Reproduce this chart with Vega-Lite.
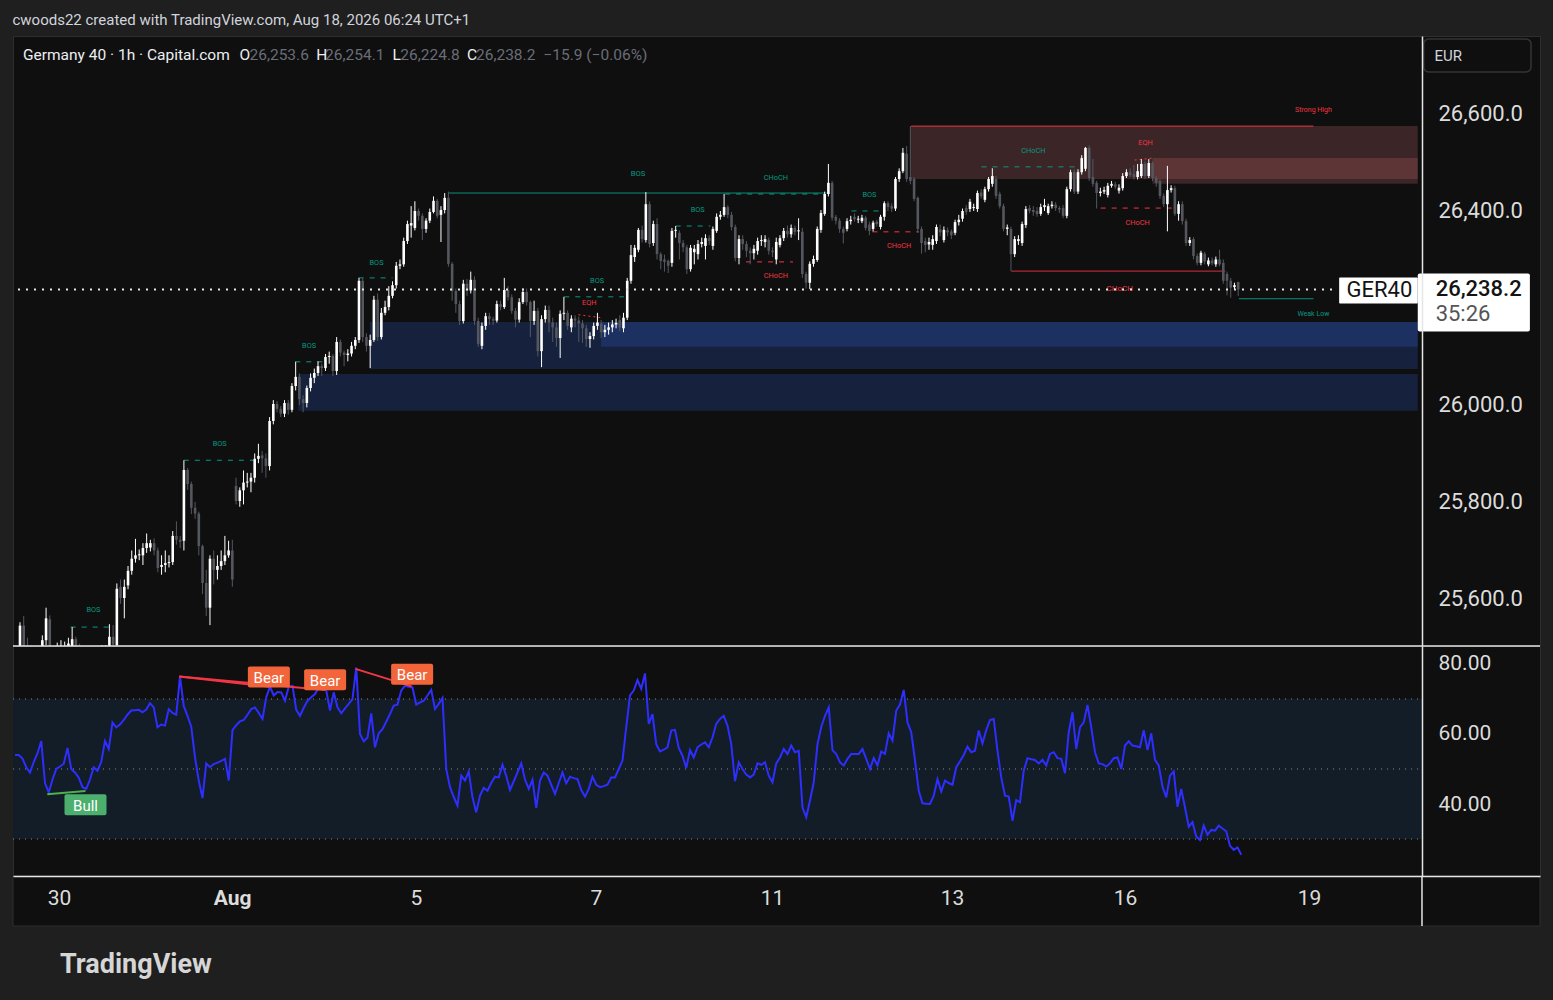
{
  "$schema": "https://vega.github.io/schema/vega-lite/v6.json",
  "description": "Germany 40 1h candlesticks with smart-money annotations and RSI panel, TradingView dark style.",
  "background": "#1f1f1f",
  "padding": {"left": 10, "right": 13, "top": 12, "bottom": 24},
  "title": {"text": "cwoods22 created with TradingView.com, Aug 18, 2026 06:24 UTC+1", "anchor": "start", "dx": 2, "fontSize": 15, "fontWeight": "normal", "color": "#d1d4dc", "font": "Roboto", "offset": 8},
  "config": {
    "view": {"fill": "#0f0f0f", "stroke": "#2e2e2e"},
    "text": {"font": "Roboto"},
    "title": {"font": "Roboto"}
  },
  "datasets": {
    "bars": [
      {"i":0,"o":25480,"h":25552,"l":25470,"c":25545,"r":54},
      {"i":1,"o":25545,"h":25565,"l":25485,"c":25495,"r":54},
      {"i":2,"o":25495,"h":25520,"l":25470,"c":25488,"r":53},
      {"i":3,"o":25488,"h":25505,"l":25455,"c":25470,"r":50.5},
      {"i":4,"o":25470,"h":25490,"l":25450,"c":25462,"r":49},
      {"i":5,"o":25462,"h":25500,"l":25455,"c":25490,"r":52},
      {"i":6,"o":25490,"h":25525,"l":25480,"c":25515,"r":54.5},
      {"i":7,"o":25515,"h":25582,"l":25505,"c":25560,"r":58},
      {"i":8,"o":25558,"h":25566,"l":25485,"c":25495,"r":46},
      {"i":9,"o":25495,"h":25500,"l":25465,"c":25480,"r":43.3},
      {"i":10,"o":25480,"h":25510,"l":25470,"c":25495,"r":47},
      {"i":11,"o":25495,"h":25515,"l":25485,"c":25500,"r":50},
      {"i":12,"o":25500,"h":25512,"l":25490,"c":25503,"r":50.7},
      {"i":13,"o":25503,"h":25520,"l":25495,"c":25508,"r":51.5},
      {"i":14,"o":25500,"h":25542,"l":25495,"c":25517,"r":56},
      {"i":15,"o":25517,"h":25522,"l":25490,"c":25500,"r":50},
      {"i":16,"o":25500,"h":25508,"l":25480,"c":25495,"r":49},
      {"i":17,"o":25495,"h":25500,"l":25475,"c":25488,"r":47.5},
      {"i":18,"o":25488,"h":25492,"l":25460,"c":25475,"r":44.8},
      {"i":19,"o":25475,"h":25485,"l":25460,"c":25472,"r":44.3},
      {"i":20,"o":25472,"h":25498,"l":25468,"c":25490,"r":47},
      {"i":21,"o":25490,"h":25497,"l":25478,"c":25487,"r":50.5},
      {"i":22,"o":25487,"h":25505,"l":25480,"c":25495,"r":49.5},
      {"i":23,"o":25495,"h":25505,"l":25485,"c":25498,"r":52},
      {"i":24,"o":25498,"h":25548,"l":25492,"c":25522,"r":58},
      {"i":25,"o":25522,"h":25546,"l":25500,"c":25506,"r":55.7},
      {"i":26,"o":25505,"h":25632,"l":25500,"c":25621,"r":63.3},
      {"i":27,"o":25625,"h":25640,"l":25590,"c":25602,"r":61.9},
      {"i":28,"o":25602,"h":25640,"l":25560,"c":25625,"r":62.7},
      {"i":29,"o":25628,"h":25668,"l":25620,"c":25658,"r":64},
      {"i":30,"o":25658,"h":25700,"l":25650,"c":25683,"r":65.5},
      {"i":31,"o":25683,"h":25724,"l":25675,"c":25690,"r":66.7},
      {"i":32,"o":25690,"h":25702,"l":25680,"c":25692,"r":66.8},
      {"i":33,"o":25690,"h":25715,"l":25670,"c":25705,"r":66.9},
      {"i":34,"o":25705,"h":25735,"l":25695,"c":25715,"r":66.2},
      {"i":35,"o":25706,"h":25722,"l":25698,"c":25715,"r":67},
      {"i":36,"o":25715,"h":25725,"l":25690,"c":25700,"r":68.8},
      {"i":37,"o":25700,"h":25706,"l":25655,"c":25664,"r":67.6},
      {"i":38,"o":25666,"h":25690,"l":25650,"c":25670,"r":61.9},
      {"i":39,"o":25670,"h":25700,"l":25655,"c":25674,"r":62.7},
      {"i":40,"o":25674,"h":25690,"l":25665,"c":25676,"r":62.4},
      {"i":41,"o":25676,"h":25740,"l":25670,"c":25730,"r":67.1},
      {"i":42,"o":25730,"h":25760,"l":25712,"c":25722,"r":66},
      {"i":43,"o":25722,"h":25730,"l":25705,"c":25718,"r":65.5},
      {"i":44,"o":25720,"h":25886,"l":25700,"c":25866,"r":76.4},
      {"i":45,"o":25866,"h":25870,"l":25825,"c":25837,"r":68},
      {"i":46,"o":25837,"h":25842,"l":25775,"c":25788,"r":65.2},
      {"i":47,"o":25788,"h":25800,"l":25765,"c":25776,"r":62.1},
      {"i":48,"o":25776,"h":25780,"l":25690,"c":25709,"r":53.3},
      {"i":49,"o":25709,"h":25712,"l":25610,"c":25633,"r":46.7},
      {"i":50,"o":25633,"h":25660,"l":25565,"c":25582,"r":41.7},
      {"i":51,"o":25582,"h":25690,"l":25546,"c":25683,"r":51.6},
      {"i":52,"o":25683,"h":25700,"l":25630,"c":25660,"r":50.5},
      {"i":53,"o":25660,"h":25690,"l":25640,"c":25668,"r":51.4},
      {"i":54,"o":25668,"h":25700,"l":25660,"c":25678,"r":51.8},
      {"i":55,"o":25678,"h":25730,"l":25670,"c":25690,"r":52.3},
      {"i":56,"o":25690,"h":25720,"l":25685,"c":25700,"r":52.9},
      {"i":57,"o":25700,"h":25722,"l":25625,"c":25640,"r":46.7},
      {"i":58,"o":25833,"h":25850,"l":25795,"c":25802,"r":61.1},
      {"i":59,"o":25802,"h":25830,"l":25790,"c":25824,"r":62.5},
      {"i":60,"o":25824,"h":25865,"l":25795,"c":25840,"r":63.6},
      {"i":61,"o":25840,"h":25860,"l":25830,"c":25842,"r":64},
      {"i":62,"o":25842,"h":25860,"l":25820,"c":25850,"r":65.5},
      {"i":63,"o":25850,"h":25900,"l":25840,"c":25889,"r":67.1},
      {"i":64,"o":25889,"h":25920,"l":25880,"c":25895,"r":67.6},
      {"i":65,"o":25896,"h":25905,"l":25860,"c":25890,"r":66},
      {"i":66,"o":25890,"h":25900,"l":25850,"c":25874,"r":64.3},
      {"i":67,"o":25874,"h":25975,"l":25865,"c":25967,"r":70.5},
      {"i":68,"o":25967,"h":26010,"l":25960,"c":26002,"r":73.5},
      {"i":69,"o":26002,"h":26008,"l":25985,"c":25992,"r":71},
      {"i":70,"o":25992,"h":25998,"l":25975,"c":25982,"r":72},
      {"i":71,"o":25982,"h":26010,"l":25975,"c":26004,"r":71.9},
      {"i":72,"o":26004,"h":26010,"l":25980,"c":25990,"r":69.5},
      {"i":73,"o":25990,"h":26045,"l":25985,"c":26039,"r":73.5},
      {"i":74,"o":26039,"h":26089,"l":26030,"c":26058,"r":73.8},
      {"i":75,"o":26058,"h":26065,"l":26000,"c":26012,"r":66.9},
      {"i":76,"o":26012,"h":26020,"l":25985,"c":26004,"r":65.2},
      {"i":77,"o":26004,"h":26040,"l":25995,"c":26035,"r":67.5},
      {"i":78,"o":26035,"h":26065,"l":26028,"c":26056,"r":69.5},
      {"i":79,"o":26056,"h":26075,"l":26045,"c":26066,"r":70.5},
      {"i":80,"o":26066,"h":26090,"l":26060,"c":26080,"r":71.4},
      {"i":81,"o":26080,"h":26085,"l":26060,"c":26076,"r":73.3},
      {"i":82,"o":26076,"h":26105,"l":26070,"c":26099,"r":72.8},
      {"i":83,"o":26099,"h":26110,"l":26085,"c":26101,"r":72.4},
      {"i":84,"o":26101,"h":26105,"l":26060,"c":26070,"r":66.7},
      {"i":85,"o":26070,"h":26140,"l":26062,"c":26130,"r":71.9},
      {"i":86,"o":26130,"h":26135,"l":26100,"c":26108,"r":67.6},
      {"i":87,"o":26108,"h":26112,"l":26080,"c":26103,"r":65.9},
      {"i":88,"o":26103,"h":26115,"l":26090,"c":26106,"r":67.3},
      {"i":89,"o":26106,"h":26130,"l":26100,"c":26122,"r":68.6},
      {"i":90,"o":26122,"h":26140,"l":26115,"c":26134,"r":70},
      {"i":91,"o":26134,"h":26262,"l":26128,"c":26256,"r":79},
      {"i":92,"o":26256,"h":26262,"l":26130,"c":26140,"r":60},
      {"i":93,"o":26140,"h":26148,"l":26110,"c":26122,"r":57.9},
      {"i":94,"o":26122,"h":26145,"l":26076,"c":26134,"r":59},
      {"i":95,"o":26134,"h":26225,"l":26130,"c":26217,"r":65.9},
      {"i":96,"o":26217,"h":26230,"l":26132,"c":26140,"r":56.2},
      {"i":97,"o":26140,"h":26200,"l":26135,"c":26190,"r":60.2},
      {"i":98,"o":26190,"h":26215,"l":26185,"c":26202,"r":61.4},
      {"i":99,"o":26202,"h":26245,"l":26195,"c":26225,"r":63.5},
      {"i":100,"o":26225,"h":26255,"l":26220,"c":26247,"r":65.7},
      {"i":101,"o":26247,"h":26295,"l":26240,"c":26287,"r":68.1},
      {"i":102,"o":26287,"h":26300,"l":26280,"c":26290,"r":68.4},
      {"i":103,"o":26290,"h":26345,"l":26285,"c":26338,"r":72.4},
      {"i":104,"o":26338,"h":26380,"l":26332,"c":26373,"r":73.8},
      {"i":105,"o":26370,"h":26410,"l":26345,"c":26375,"r":73.5},
      {"i":106,"o":26365,"h":26420,"l":26360,"c":26400,"r":73.3},
      {"i":107,"o":26400,"h":26405,"l":26380,"c":26390,"r":68.4},
      {"i":108,"o":26390,"h":26395,"l":26340,"c":26363,"r":69},
      {"i":109,"o":26363,"h":26385,"l":26355,"c":26380,"r":69.5},
      {"i":110,"o":26380,"h":26405,"l":26375,"c":26398,"r":71},
      {"i":111,"o":26398,"h":26430,"l":26395,"c":26421,"r":72.6},
      {"i":112,"o":26421,"h":26425,"l":26385,"c":26390,"r":67.1},
      {"i":113,"o":26392,"h":26410,"l":26336,"c":26402,"r":68.6},
      {"i":114,"o":26402,"h":26437,"l":26395,"c":26427,"r":70.3},
      {"i":115,"o":26427,"h":26440,"l":26285,"c":26291,"r":50},
      {"i":116,"o":26291,"h":26295,"l":26215,"c":26235,"r":44.8},
      {"i":117,"o":26235,"h":26240,"l":26190,"c":26208,"r":42},
      {"i":118,"o":26208,"h":26215,"l":26165,"c":26173,"r":39.5},
      {"i":119,"o":26173,"h":26258,"l":26168,"c":26250,"r":48.1},
      {"i":120,"o":26250,"h":26260,"l":26225,"c":26236,"r":46.7},
      {"i":121,"o":26236,"h":26275,"l":26230,"c":26258,"r":49.3},
      {"i":122,"o":26258,"h":26265,"l":26165,"c":26173,"r":41.9},
      {"i":123,"o":26173,"h":26180,"l":26120,"c":26126,"r":37.6},
      {"i":124,"o":26122,"h":26170,"l":26115,"c":26163,"r":42.4},
      {"i":125,"o":26163,"h":26190,"l":26155,"c":26183,"r":44.6},
      {"i":126,"o":26183,"h":26190,"l":26165,"c":26177,"r":43.8},
      {"i":127,"o":26177,"h":26182,"l":26165,"c":26174,"r":46},
      {"i":128,"o":26174,"h":26215,"l":26170,"c":26208,"r":47.8},
      {"i":129,"o":26208,"h":26215,"l":26195,"c":26202,"r":47.6},
      {"i":130,"o":26202,"h":26262,"l":26198,"c":26237,"r":51.2},
      {"i":131,"o":26237,"h":26245,"l":26215,"c":26222,"r":48},
      {"i":132,"o":26222,"h":26228,"l":26188,"c":26194,"r":44},
      {"i":133,"o":26194,"h":26200,"l":26160,"c":26176,"r":46.5},
      {"i":134,"o":26176,"h":26220,"l":26170,"c":26212,"r":49},
      {"i":135,"o":26212,"h":26240,"l":26208,"c":26233,"r":51.6},
      {"i":136,"o":26233,"h":26240,"l":26205,"c":26212,"r":47},
      {"i":137,"o":26212,"h":26215,"l":26140,"c":26173,"r":44.3},
      {"i":138,"o":26173,"h":26215,"l":26165,"c":26194,"r":46.9},
      {"i":139,"o":26194,"h":26200,"l":26100,"c":26111,"r":38.9},
      {"i":140,"o":26111,"h":26185,"l":26078,"c":26177,"r":46.7},
      {"i":141,"o":26177,"h":26205,"l":26170,"c":26196,"r":49},
      {"i":142,"o":26196,"h":26205,"l":26150,"c":26170,"r":48.1},
      {"i":143,"o":26170,"h":26180,"l":26130,"c":26160,"r":45.5},
      {"i":144,"o":26160,"h":26170,"l":26120,"c":26138,"r":42.9},
      {"i":145,"o":26138,"h":26195,"l":26097,"c":26188,"r":46},
      {"i":146,"o":26188,"h":26223,"l":26175,"c":26190,"r":49},
      {"i":147,"o":26190,"h":26195,"l":26155,"c":26163,"r":45.9},
      {"i":148,"o":26160,"h":26185,"l":26150,"c":26178,"r":47.8},
      {"i":149,"o":26178,"h":26185,"l":26160,"c":26174,"r":47.4},
      {"i":150,"o":26174,"h":26182,"l":26130,"c":26168,"r":47.1},
      {"i":151,"o":26168,"h":26175,"l":26128,"c":26158,"r":44},
      {"i":152,"o":26158,"h":26165,"l":26120,"c":26136,"r":42.1},
      {"i":153,"o":26136,"h":26150,"l":26118,"c":26142,"r":44.3},
      {"i":154,"o":26142,"h":26170,"l":26135,"c":26163,"r":47.8},
      {"i":155,"o":26163,"h":26190,"l":26155,"c":26170,"r":45.5},
      {"i":156,"o":26168,"h":26175,"l":26138,"c":26150,"r":44.8},
      {"i":157,"o":26150,"h":26165,"l":26140,"c":26155,"r":45.1},
      {"i":158,"o":26155,"h":26170,"l":26145,"c":26160,"r":45.5},
      {"i":159,"o":26160,"h":26175,"l":26150,"c":26166,"r":47.6},
      {"i":160,"o":26166,"h":26178,"l":26158,"c":26169,"r":47.6},
      {"i":161,"o":26175,"h":26185,"l":26152,"c":26160,"r":50},
      {"i":162,"o":26158,"h":26190,"l":26150,"c":26180,"r":52.4},
      {"i":163,"o":26180,"h":26262,"l":26175,"c":26256,"r":62},
      {"i":164,"o":26256,"h":26330,"l":26250,"c":26309,"r":71},
      {"i":165,"o":26305,"h":26330,"l":26295,"c":26324,"r":72.4},
      {"i":166,"o":26320,"h":26365,"l":26315,"c":26361,"r":75.4},
      {"i":167,"o":26361,"h":26370,"l":26335,"c":26342,"r":72.9},
      {"i":168,"o":26340,"h":26439,"l":26335,"c":26414,"r":77.3},
      {"i":169,"o":26414,"h":26420,"l":26325,"c":26332,"r":62.9},
      {"i":170,"o":26334,"h":26380,"l":26328,"c":26373,"r":65.7},
      {"i":171,"o":26373,"h":26385,"l":26300,"c":26311,"r":57.1},
      {"i":172,"o":26311,"h":26315,"l":26280,"c":26297,"r":55},
      {"i":173,"o":26300,"h":26310,"l":26275,"c":26295,"r":55.5},
      {"i":174,"o":26297,"h":26300,"l":26272,"c":26287,"r":56.2},
      {"i":175,"o":26293,"h":26365,"l":26285,"c":26359,"r":61},
      {"i":176,"o":26359,"h":26369,"l":26345,"c":26361,"r":61.2},
      {"i":177,"o":26355,"h":26360,"l":26300,"c":26334,"r":56},
      {"i":178,"o":26334,"h":26340,"l":26315,"c":26325,"r":53.8},
      {"i":179,"o":26325,"h":26330,"l":26270,"c":26280,"r":50.3},
      {"i":180,"o":26280,"h":26330,"l":26275,"c":26324,"r":55.4},
      {"i":181,"o":26315,"h":26330,"l":26290,"c":26322,"r":53.3},
      {"i":182,"o":26311,"h":26340,"l":26300,"c":26332,"r":56.2},
      {"i":183,"o":26332,"h":26345,"l":26325,"c":26336,"r":57},
      {"i":184,"o":26328,"h":26352,"l":26300,"c":26344,"r":57.6},
      {"i":185,"o":26344,"h":26350,"l":26330,"c":26338,"r":56.2},
      {"i":186,"o":26328,"h":26368,"l":26320,"c":26363,"r":59},
      {"i":187,"o":26359,"h":26395,"l":26355,"c":26388,"r":62.9},
      {"i":188,"o":26388,"h":26400,"l":26382,"c":26392,"r":64.3},
      {"i":189,"o":26392,"h":26435,"l":26388,"c":26408,"r":65.2},
      {"i":190,"o":26408,"h":26412,"l":26385,"c":26392,"r":62.4},
      {"i":191,"o":26392,"h":26398,"l":26360,"c":26367,"r":57.1},
      {"i":192,"o":26367,"h":26372,"l":26296,"c":26303,"r":46.5},
      {"i":193,"o":26303,"h":26350,"l":26290,"c":26342,"r":51.9},
      {"i":194,"o":26342,"h":26350,"l":26320,"c":26332,"r":50},
      {"i":195,"o":26332,"h":26338,"l":26305,"c":26318,"r":48.4},
      {"i":196,"o":26318,"h":26325,"l":26290,"c":26313,"r":47.6},
      {"i":197,"o":26313,"h":26330,"l":26300,"c":26322,"r":48.4},
      {"i":198,"o":26318,"h":26345,"l":26310,"c":26338,"r":51.6},
      {"i":199,"o":26338,"h":26350,"l":26328,"c":26340,"r":51.2},
      {"i":200,"o":26336,"h":26350,"l":26325,"c":26342,"r":51.9},
      {"i":201,"o":26340,"h":26345,"l":26310,"c":26318,"r":48.1},
      {"i":202,"o":26318,"h":26325,"l":26305,"c":26315,"r":46.2},
      {"i":203,"o":26300,"h":26345,"l":26290,"c":26336,"r":51.6},
      {"i":204,"o":26330,"h":26350,"l":26325,"c":26344,"r":53.3},
      {"i":205,"o":26344,"h":26365,"l":26338,"c":26359,"r":55.7},
      {"i":206,"o":26359,"h":26370,"l":26345,"c":26352,"r":54.3},
      {"i":207,"o":26352,"h":26372,"l":26345,"c":26365,"r":56.7},
      {"i":208,"o":26365,"h":26370,"l":26350,"c":26357,"r":54.8},
      {"i":209,"o":26358,"h":26385,"l":26340,"c":26360,"r":55.2},
      {"i":210,"o":26357,"h":26365,"l":26262,"c":26270,"r":39},
      {"i":211,"o":26270,"h":26275,"l":26240,"c":26252,"r":36.2},
      {"i":212,"o":26252,"h":26296,"l":26239,"c":26291,"r":41},
      {"i":213,"o":26291,"h":26308,"l":26285,"c":26301,"r":46.2},
      {"i":214,"o":26299,"h":26368,"l":26295,"c":26363,"r":57.1},
      {"i":215,"o":26361,"h":26402,"l":26355,"c":26396,"r":62},
      {"i":216,"o":26394,"h":26440,"l":26390,"c":26435,"r":65.2},
      {"i":217,"o":26435,"h":26497,"l":26430,"c":26458,"r":67.6},
      {"i":218,"o":26458,"h":26462,"l":26380,"c":26386,"r":55.4},
      {"i":219,"o":26388,"h":26392,"l":26372,"c":26380,"r":54.3},
      {"i":220,"o":26380,"h":26385,"l":26355,"c":26363,"r":51.9},
      {"i":221,"o":26363,"h":26368,"l":26333,"c":26355,"r":51},
      {"i":222,"o":26363,"h":26385,"l":26358,"c":26379,"r":52.9},
      {"i":223,"o":26379,"h":26390,"l":26372,"c":26382,"r":54.3},
      {"i":224,"o":26388,"h":26395,"l":26378,"c":26383,"r":54.3},
      {"i":225,"o":26382,"h":26390,"l":26375,"c":26384,"r":54.3},
      {"i":226,"o":26379,"h":26392,"l":26375,"c":26386,"r":55.7},
      {"i":227,"o":26386,"h":26390,"l":26360,"c":26365,"r":52.9},
      {"i":228,"o":26372,"h":26378,"l":26350,"c":26359,"r":50},
      {"i":229,"o":26363,"h":26380,"l":26358,"c":26376,"r":53.1},
      {"i":230,"o":26378,"h":26382,"l":26368,"c":26373,"r":51},
      {"i":231,"o":26367,"h":26392,"l":26362,"c":26388,"r":55},
      {"i":232,"o":26388,"h":26420,"l":26380,"c":26416,"r":54.3},
      {"i":233,"o":26416,"h":26420,"l":26400,"c":26408,"r":60.2},
      {"i":234,"o":26410,"h":26416,"l":26398,"c":26405,"r":58.1},
      {"i":235,"o":26405,"h":26470,"l":26400,"c":26466,"r":66.7},
      {"i":236,"o":26466,"h":26488,"l":26460,"c":26482,"r":68.4},
      {"i":237,"o":26482,"h":26530,"l":26478,"c":26520,"r":72.6},
      {"i":238,"o":26518,"h":26534,"l":26460,"c":26466,"r":63.3},
      {"i":239,"o":26470,"h":26575,"l":26455,"c":26462,"r":60.5},
      {"i":240,"o":26466,"h":26470,"l":26420,"c":26425,"r":52.4},
      {"i":241,"o":26427,"h":26430,"l":26355,"c":26363,"r":43.8},
      {"i":242,"o":26363,"h":26368,"l":26312,"c":26334,"r":40.2},
      {"i":243,"o":26338,"h":26345,"l":26315,"c":26330,"r":40.1},
      {"i":244,"o":26331,"h":26345,"l":26320,"c":26336,"r":40},
      {"i":245,"o":26330,"h":26350,"l":26320,"c":26342,"r":42.4},
      {"i":246,"o":26338,"h":26372,"l":26332,"c":26367,"r":47.1},
      {"i":247,"o":26362,"h":26372,"l":26348,"c":26356,"r":43.6},
      {"i":248,"o":26340,"h":26368,"l":26335,"c":26361,"r":46.7},
      {"i":249,"o":26360,"h":26366,"l":26348,"c":26356,"r":46},
      {"i":250,"o":26358,"h":26362,"l":26342,"c":26350,"r":45.5},
      {"i":251,"o":26355,"h":26382,"l":26350,"c":26377,"r":50.5},
      {"i":252,"o":26377,"h":26392,"l":26370,"c":26382,"r":52.2},
      {"i":253,"o":26384,"h":26405,"l":26378,"c":26400,"r":54},
      {"i":254,"o":26406,"h":26412,"l":26392,"c":26398,"r":56.4},
      {"i":255,"o":26404,"h":26425,"l":26398,"c":26419,"r":54.8},
      {"i":256,"o":26406,"h":26415,"l":26400,"c":26408,"r":55.2},
      {"i":257,"o":26404,"h":26442,"l":26398,"c":26437,"r":61},
      {"i":258,"o":26438,"h":26445,"l":26425,"c":26430,"r":57.3},
      {"i":259,"o":26423,"h":26450,"l":26418,"c":26445,"r":61.1},
      {"i":260,"o":26445,"h":26470,"l":26440,"c":26466,"r":64},
      {"i":261,"o":26456,"h":26488,"l":26450,"c":26472,"r":64.3},
      {"i":262,"o":26466,"h":26472,"l":26425,"c":26431,"r":55.2},
      {"i":263,"o":26435,"h":26440,"l":26405,"c":26410,"r":47.6},
      {"i":264,"o":26410,"h":26415,"l":26358,"c":26363,"r":42.4},
      {"i":265,"o":26363,"h":26372,"l":26350,"c":26366,"r":42.1},
      {"i":266,"o":26363,"h":26368,"l":26276,"c":26311,"r":35.2},
      {"i":267,"o":26311,"h":26348,"l":26305,"c":26342,"r":41.1},
      {"i":268,"o":26338,"h":26350,"l":26330,"c":26342,"r":40.5},
      {"i":269,"o":26334,"h":26378,"l":26328,"c":26373,"r":49.5},
      {"i":270,"o":26371,"h":26410,"l":26365,"c":26404,"r":53.1},
      {"i":271,"o":26406,"h":26412,"l":26395,"c":26400,"r":52.8},
      {"i":272,"o":26402,"h":26410,"l":26390,"c":26398,"r":52.6},
      {"i":273,"o":26400,"h":26408,"l":26388,"c":26394,"r":51.6},
      {"i":274,"o":26394,"h":26415,"l":26390,"c":26408,"r":52.6},
      {"i":275,"o":26408,"h":26425,"l":26400,"c":26412,"r":51},
      {"i":276,"o":26396,"h":26415,"l":26392,"c":26410,"r":54.3},
      {"i":277,"o":26410,"h":26420,"l":26405,"c":26413,"r":54.8},
      {"i":278,"o":26413,"h":26418,"l":26400,"c":26406,"r":53.1},
      {"i":279,"o":26406,"h":26410,"l":26396,"c":26403,"r":52.9},
      {"i":280,"o":26406,"h":26412,"l":26385,"c":26390,"r":48.8},
      {"i":281,"o":26390,"h":26450,"l":26385,"c":26445,"r":60.5},
      {"i":282,"o":26445,"h":26485,"l":26440,"c":26480,"r":66.2},
      {"i":283,"o":26480,"h":26486,"l":26435,"c":26440,"r":55.7},
      {"i":284,"o":26440,"h":26486,"l":26435,"c":26480,"r":61.9},
      {"i":285,"o":26480,"h":26515,"l":26475,"c":26509,"r":63.3},
      {"i":286,"o":26487,"h":26532,"l":26482,"c":26530,"r":68.3},
      {"i":287,"o":26530,"h":26535,"l":26462,"c":26468,"r":61.9},
      {"i":288,"o":26470,"h":26507,"l":26450,"c":26456,"r":54.8},
      {"i":289,"o":26458,"h":26462,"l":26405,"c":26437,"r":51.6},
      {"i":290,"o":26437,"h":26448,"l":26430,"c":26440,"r":51.4},
      {"i":291,"o":26440,"h":26450,"l":26435,"c":26443,"r":50.7},
      {"i":292,"o":26433,"h":26458,"l":26428,"c":26452,"r":51.6},
      {"i":293,"o":26452,"h":26462,"l":26448,"c":26456,"r":53.1},
      {"i":294,"o":26455,"h":26460,"l":26445,"c":26450,"r":53.3},
      {"i":295,"o":26442,"h":26455,"l":26436,"c":26448,"r":50},
      {"i":296,"o":26447,"h":26478,"l":26442,"c":26472,"r":56.7},
      {"i":297,"o":26472,"h":26486,"l":26468,"c":26480,"r":57.9},
      {"i":298,"o":26480,"h":26488,"l":26470,"c":26474,"r":56.7},
      {"i":299,"o":26476,"h":26495,"l":26465,"c":26470,"r":56.5},
      {"i":300,"o":26470,"h":26497,"l":26465,"c":26482,"r":56.2},
      {"i":301,"o":26472,"h":26507,"l":26468,"c":26497,"r":61.1},
      {"i":302,"o":26497,"h":26502,"l":26466,"c":26472,"r":55.4},
      {"i":303,"o":26472,"h":26507,"l":26468,"c":26499,"r":60.2},
      {"i":304,"o":26499,"h":26502,"l":26462,"c":26468,"r":52.6},
      {"i":305,"o":26468,"h":26472,"l":26450,"c":26458,"r":51},
      {"i":306,"o":26462,"h":26466,"l":26425,"c":26431,"r":45},
      {"i":307,"o":26431,"h":26436,"l":26408,"c":26414,"r":41.9},
      {"i":308,"o":26414,"h":26493,"l":26358,"c":26443,"r":48.1},
      {"i":309,"o":26443,"h":26453,"l":26438,"c":26447,"r":49.3},
      {"i":310,"o":26447,"h":26452,"l":26390,"c":26394,"r":39.2},
      {"i":311,"o":26394,"h":26420,"l":26380,"c":26414,"r":44.3},
      {"i":312,"o":26414,"h":26420,"l":26372,"c":26379,"r":39},
      {"i":313,"o":26379,"h":26384,"l":26328,"c":26334,"r":33.5},
      {"i":314,"o":26334,"h":26346,"l":26328,"c":26340,"r":34.8},
      {"i":315,"o":26342,"h":26346,"l":26300,"c":26307,"r":30.7},
      {"i":316,"o":26307,"h":26312,"l":26288,"c":26293,"r":29.7},
      {"i":317,"o":26293,"h":26318,"l":26288,"c":26314,"r":33.8},
      {"i":318,"o":26312,"h":26316,"l":26290,"c":26296,"r":31.2},
      {"i":319,"o":26290,"h":26304,"l":26286,"c":26298,"r":32.6},
      {"i":320,"o":26298,"h":26304,"l":26288,"c":26292,"r":32.4},
      {"i":321,"o":26290,"h":26306,"l":26285,"c":26300,"r":33.8},
      {"i":322,"o":26300,"h":26320,"l":26286,"c":26290,"r":33},
      {"i":323,"o":26293,"h":26300,"l":26250,"c":26256,"r":32.2},
      {"i":324,"o":26270,"h":26275,"l":26226,"c":26256,"r":28.1},
      {"i":325,"o":26256,"h":26262,"l":26221,"c":26242,"r":26.9},
      {"i":326,"o":26243,"h":26252,"l":26238,"c":26247,"r":27.6},
      {"i":327,"o":26253.6,"h":26254.1,"l":26224.8,"c":26238.2,"r":25.5}
    ],
    "zones": [
      {"a":74.7,"b":375.2,"p":26064,"q":25988,"k":"demand"},
      {"a":93.9,"b":375.2,"p":26171,"q":26074,"k":"demand"},
      {"a":156,"b":375.2,"p":26171,"q":26120,"k":"demand"},
      {"a":239.2,"b":375.2,"p":26575,"q":26466,"k":"supply"},
      {"a":304,"b":375.2,"p":26509,"q":26456,"k":"supply"}
    ],
    "lines": [
      {"a":13.6,"b":24,"p":25542,"q":25542,"s":"bull","st":"dash"},
      {"a":44,"b":62.7,"p":25886,"q":25886,"s":"bull","st":"dash"},
      {"a":73.9,"b":81.9,"p":26089,"q":26089,"s":"bull","st":"dash"},
      {"a":90.9,"b":100,"p":26262,"q":26262,"s":"bull","st":"dash"},
      {"a":115.2,"b":216.5,"p":26437,"q":26437,"s":"bull","st":"solid"},
      {"a":146.1,"b":162.1,"p":26223,"q":26223,"s":"bull","st":"dash"},
      {"a":149.9,"b":156,"p":26186,"q":26180,"s":"bear","st":"dot"},
      {"a":176,"b":185.3,"p":26369,"q":26369,"s":"bull","st":"dash"},
      {"a":194.9,"b":207.5,"p":26295,"q":26295,"s":"bear","st":"dash"},
      {"a":189.3,"b":215.5,"p":26435,"q":26435,"s":"bull","st":"dash"},
      {"a":223.2,"b":232.5,"p":26400,"q":26400,"s":"bull","st":"dash"},
      {"a":228.8,"b":241.3,"p":26357,"q":26357,"s":"bear","st":"dash"},
      {"a":258.1,"b":285.3,"p":26491,"q":26491,"s":"bull","st":"dash"},
      {"a":299.2,"b":304,"p":26505,"q":26509,"s":"bear","st":"dot"},
      {"a":290.1,"b":309.9,"p":26406,"q":26406,"s":"bear","st":"dash"},
      {"a":266.1,"b":323.5,"p":26276,"q":26276,"s":"bear","st":"solid"},
      {"a":327.2,"b":347.2,"p":26219,"q":26219,"s":"bull","st":"solid"},
      {"a":239.2,"b":347.2,"p":26575,"q":26575,"s":"bear","st":"solid"}
    ],
    "notes": [
      {"i":19.7,"p":25577,"t":"BOS","s":"bull","z":"s"},
      {"i":53.6,"p":25920,"t":"BOS","s":"bull","z":"s"},
      {"i":77.6,"p":26122,"t":"BOS","s":"bull","z":"s"},
      {"i":95.7,"p":26293,"t":"BOS","s":"bull","z":"s"},
      {"i":165.9,"p":26476,"t":"BOS","s":"bull","z":"m"},
      {"i":154.9,"p":26256,"t":"BOS","s":"bull","z":"s"},
      {"i":152.8,"p":26210,"t":"EQH","s":"bear","z":"s"},
      {"i":181.9,"p":26402,"t":"BOS","s":"bull","z":"s"},
      {"i":202.9,"p":26266,"t":"CHoCH","s":"bear","z":"s"},
      {"i":202.9,"p":26468,"t":"CHoCH","s":"bull","z":"s"},
      {"i":228,"p":26433,"t":"BOS","s":"bull","z":"s"},
      {"i":236,"p":26328,"t":"CHoCH","s":"bear","z":"s"},
      {"i":272,"p":26524,"t":"CHoCH","s":"bull","z":"s"},
      {"i":302.1,"p":26540,"t":"EQH","s":"bear","z":"s"},
      {"i":300,"p":26375,"t":"CHoCH","s":"bear","z":"s"},
      {"i":295.2,"p":26239,"t":"CHoCH","s":"bear","z":"l"},
      {"i":347.2,"p":26188,"t":"Weak Low","s":"bull","z":"xs"},
      {"i":347.2,"p":26608,"t":"Strong High","s":"bear","z":"xs"}
    ],
    "legend": [
      {"i":0.8,"t":"Germany 40 · 1h · Capital.com","k":"name"},
      {"i":58.9,"t":"O","k":"key"},
      {"i":61.6,"t":"26,253.6","k":"val"},
      {"i":79.5,"t":"H","k":"key"},
      {"i":81.9,"t":"26,254.1","k":"val"},
      {"i":100,"t":"L","k":"key"},
      {"i":102.1,"t":"26,224.8","k":"val"},
      {"i":120,"t":"C","k":"key"},
      {"i":122.4,"t":"26,238.2","k":"val"},
      {"i":140.5,"t":"−15.9 (−0.06%)","k":"val"}
    ],
    "last": [{"p":26238.2,"sym":"GER40","cd":"35:26","cur":"EUR"}],
    "levels": [{"lv":70},{"lv":50},{"lv":30}],
    "divs": [
      {"a":43.8,"ra":76.4,"b":67.8,"rb":73.5,"s":"bear"},
      {"a":43.8,"ra":76.4,"b":82.7,"rb":72.6,"s":"bear"},
      {"a":90.8,"ra":78.6,"b":105.8,"rb":73.6,"s":"bear"},
      {"a":8.6,"ra":42.8,"b":18.8,"rb":43.7,"s":"bull"}
    ],
    "tags": [
      {"i":67.7,"r":76.3,"t":"Bear","s":"bear"},
      {"i":82.7,"r":75.5,"t":"Bear","s":"bear"},
      {"i":105.9,"r":77.1,"t":"Bear","s":"bear"},
      {"i":18.8,"r":39.8,"t":"Bull","s":"bull"}
    ]
  },
  "spacing": 0,
  "bounds": "flush",
  "vconcat": [
    {
      "width": 1527,
      "height": 610,
      "resolve": {"scale": {"color": "independent", "opacity": "independent", "size": "independent", "strokeDash": "independent"}},
      "layer": [
        {
          "data": {"name": "zones"},
          "mark": {"type": "rect"},
          "encoding": {
            "x": {"field": "a", "type": "quantitative", "scale": {"domain": [-0.533, 406.67], "nice": false, "zero": false}, "axis": {"labels": false, "ticks": false, "domain": false, "grid": false, "title": null, "minExtent": 0, "maxExtent": 0, "offset": 0}},
            "x2": {"field": "b"},
            "y": {"field": "p", "type": "quantitative", "scale": {"domain": [25503.0, 26760.8], "nice": false, "zero": false}},
            "y2": {"field": "q"},
            "color": {"field": "k", "type": "nominal", "scale": {"domain": ["demand", "supply"], "range": ["#346be3", "#b26064"]}, "legend": null},
            "opacity": {"field": "k", "type": "nominal", "scale": {"domain": ["demand", "supply"], "range": [0.22, 0.28]}, "legend": null}
          }
        },
        {
          "data": {"name": "lines"},
          "mark": {"type": "rule", "strokeWidth": 1},
          "encoding": {
            "x": {"field": "a", "type": "quantitative", "scale": {"domain": [-0.533, 406.67], "nice": false, "zero": false}},
            "x2": {"field": "b"},
            "y": {"field": "p", "type": "quantitative", "scale": {"domain": [25503.0, 26760.8], "nice": false, "zero": false}},
            "y2": {"field": "q"},
            "color": {"field": "s", "type": "nominal", "scale": {"domain": ["bull", "bear"], "range": ["#089981", "#f23645"]}, "legend": null},
            "strokeDash": {"field": "st", "type": "nominal", "scale": {"domain": ["solid", "dash", "dot"], "range": [[1, 0], [5, 6], [2, 3]]}, "legend": null}
          }
        },
        {
          "data": {"name": "notes"},
          "mark": {"type": "text", "align": "center", "baseline": "middle", "font": "Roboto"},
          "encoding": {
            "x": {"field": "i", "type": "quantitative", "scale": {"domain": [-0.533, 406.67], "nice": false, "zero": false}},
            "y": {"field": "p", "type": "quantitative", "scale": {"domain": [25503.0, 26760.8], "nice": false, "zero": false}},
            "text": {"field": "t"},
            "color": {"field": "s", "type": "nominal", "scale": {"domain": ["bull", "bear"], "range": ["#089981", "#f23645"]}, "legend": null},
            "size": {"field": "z", "type": "nominal", "scale": {"domain": ["xs", "s", "m", "l"], "range": [7, 8, 11, 12]}, "legend": null}
          }
        },
        {
          "data": {"name": "bars"},
          "mark": {"type": "rule", "strokeWidth": 1, "clip": true},
          "encoding": {
            "x": {"field": "i", "type": "quantitative", "scale": {"domain": [-0.533, 406.67], "nice": false, "zero": false}},
            "y": {"field": "l", "type": "quantitative", "scale": {"domain": [25503.0, 26760.8], "nice": false, "zero": false}},
            "y2": {"field": "h"},
            "color": {"condition": {"test": "datum.c >= datum.o", "value": "#ffffff"}, "value": "#55575f"}
          }
        },
        {
          "data": {"name": "bars"},
          "mark": {"type": "bar", "width": 2.6, "clip": true},
          "encoding": {
            "x": {"field": "i", "type": "quantitative", "scale": {"domain": [-0.533, 406.67], "nice": false, "zero": false}},
            "y": {
              "field": "o", "type": "quantitative",
              "scale": {"domain": [25503.0, 26760.8], "nice": false, "zero": false},
              "axis": {"orient": "right", "offset": -118, "values": [25600, 25800, 26000, 26400, 26600], "format": ",.1f", "title": null, "grid": false, "ticks": false, "labelPadding": 16, "labelFontSize": 22, "labelFont": "Roboto", "labelColor": "#dcdcdc", "labelBaseline": "middle", "domainColor": "#e6e6e6", "domainWidth": 1.5, "zindex": 1}
            },
            "y2": {"field": "c"},
            "color": {"condition": {"test": "datum.c >= datum.o", "value": "#ffffff"}, "value": "#55575f"}
          }
        },
        {
          "data": {"name": "last"},
          "mark": {"type": "rule", "strokeWidth": 2, "strokeDash": [2, 6], "color": "#e6e6e6"},
          "encoding": {
            "x": {"datum": -0.533, "type": "quantitative", "scale": {"domain": [-0.533, 406.67], "nice": false, "zero": false}},
            "x2": {"datum": 353.3},
            "y": {"field": "p", "type": "quantitative", "scale": {"domain": [25503.0, 26760.8], "nice": false, "zero": false}}
          }
        },
        {
          "data": {"name": "last"},
          "mark": {"type": "rect", "color": "#ffffff", "yOffset": -12, "y2Offset": 14, "cornerRadius": 1},
          "encoding": {
            "x": {"datum": 354.1, "type": "quantitative", "scale": {"domain": [-0.533, 406.67], "nice": false, "zero": false}},
            "x2": {"datum": 375.2},
            "y": {"field": "p", "type": "quantitative", "scale": {"domain": [25503.0, 26760.8], "nice": false, "zero": false}},
            "y2": {"field": "p"}
          }
        },
        {
          "data": {"name": "last"},
          "mark": {"type": "rect", "color": "#ffffff", "yOffset": -16, "y2Offset": 42, "cornerRadius": 2},
          "encoding": {
            "x": {"datum": 375.2, "type": "quantitative", "scale": {"domain": [-0.533, 406.67], "nice": false, "zero": false}},
            "x2": {"datum": 405.3},
            "y": {"field": "p", "type": "quantitative", "scale": {"domain": [25503.0, 26760.8], "nice": false, "zero": false}},
            "y2": {"field": "p"}
          }
        },
        {
          "data": {"name": "last"},
          "mark": {"type": "text", "align": "center", "baseline": "middle", "fontSize": 22, "color": "#131313", "font": "Roboto", "dy": 1},
          "encoding": {
            "x": {"datum": 364.9, "type": "quantitative", "scale": {"domain": [-0.533, 406.67], "nice": false, "zero": false}},
            "y": {"field": "p", "type": "quantitative", "scale": {"domain": [25503.0, 26760.8], "nice": false, "zero": false}},
            "text": {"field": "sym"}
          }
        },
        {
          "data": {"name": "last"},
          "mark": {"type": "text", "align": "left", "baseline": "middle", "fontSize": 22, "fontWeight": 500, "color": "#131313", "font": "Roboto"},
          "encoding": {
            "x": {"datum": 380, "type": "quantitative", "scale": {"domain": [-0.533, 406.67], "nice": false, "zero": false}},
            "y": {"field": "p", "type": "quantitative", "scale": {"domain": [25503.0, 26760.8], "nice": false, "zero": false}},
            "text": {"field": "p", "format": ",.1f"}
          }
        },
        {
          "data": {"name": "last"},
          "mark": {"type": "text", "align": "left", "baseline": "middle", "fontSize": 22, "color": "#555555", "font": "Roboto", "dy": 25},
          "encoding": {
            "x": {"datum": 380, "type": "quantitative", "scale": {"domain": [-0.533, 406.67], "nice": false, "zero": false}},
            "y": {"field": "p", "type": "quantitative", "scale": {"domain": [25503.0, 26760.8], "nice": false, "zero": false}},
            "text": {"field": "cd"}
          }
        },
        {
          "data": {"name": "last"},
          "mark": {"type": "rect", "fill": "#0f0f0f", "stroke": "#353535", "strokeWidth": 1.5, "cornerRadius": 5},
          "encoding": {
            "x": {"datum": 376.8, "type": "quantitative", "scale": {"domain": [-0.533, 406.67], "nice": false, "zero": false}},
            "x2": {"datum": 405.6},
            "y": {"datum": 26754.6, "type": "quantitative", "scale": {"domain": [25503.0, 26760.8], "nice": false, "zero": false}},
            "y2": {"datum": 26686.6}
          }
        },
        {
          "data": {"name": "last"},
          "mark": {"type": "text", "align": "left", "baseline": "middle", "fontSize": 15, "color": "#d1d4dc", "font": "Roboto"},
          "encoding": {
            "x": {"datum": 379.7, "type": "quantitative", "scale": {"domain": [-0.533, 406.67], "nice": false, "zero": false}},
            "y": {"datum": 26719.6, "type": "quantitative", "scale": {"domain": [25503.0, 26760.8], "nice": false, "zero": false}},
            "text": {"field": "cur"}
          }
        },
        {
          "data": {"name": "legend"},
          "mark": {"type": "text", "align": "left", "baseline": "middle", "fontSize": 15.5, "font": "Roboto"},
          "encoding": {
            "x": {"field": "i", "type": "quantitative", "scale": {"domain": [-0.533, 406.67], "nice": false, "zero": false}},
            "y": {"datum": 26721.7, "type": "quantitative", "scale": {"domain": [25503.0, 26760.8], "nice": false, "zero": false}},
            "text": {"field": "t"},
            "color": {"field": "k", "type": "nominal", "scale": {"domain": ["name", "key", "val"], "range": ["#eceef2", "#eceef2", "#6a6d78"]}, "legend": null}
          }
        }
      ]
    },
    {
      "width": 1527,
      "height": 230,
      "title": {"text": "TradingView", "orient": "bottom", "anchor": "start", "dx": 49, "offset": 25, "fontSize": 27, "fontWeight": "bold", "color": "#d6d6d6", "font": "Roboto"},
      "resolve": {"scale": {"color": "independent"}},
      "layer": [
        {
          "data": {"values": [{}]},
          "mark": {"type": "rect", "fill": "#0f0f0f", "stroke": "#2e2e2e", "strokeWidth": 1},
          "encoding": {
            "x": {"datum": -0.533, "type": "quantitative", "scale": {"domain": [-0.533, 406.67], "nice": false, "zero": false}},
            "x2": {"datum": 406.67},
            "y": {"datum": 19.43, "type": "quantitative", "scale": {"domain": [19.43, 85.14], "nice": false, "zero": false}},
            "y2": {"datum": 5.14}
          }
        },
        {
          "data": {"values": [{}]},
          "mark": {"type": "rule", "color": "#e6e6e6", "strokeWidth": 1.5},
          "encoding": {
            "x": {"datum": 375.2, "type": "quantitative", "scale": {"domain": [-0.533, 406.67], "nice": false, "zero": false}},
            "y": {"datum": 19.43, "type": "quantitative", "scale": {"domain": [19.43, 85.14], "nice": false, "zero": false}},
            "y2": {"datum": 5.14}
          }
        },
        {
          "data": {"values": [{}]},
          "mark": {"type": "rect", "fill": "#121d27"},
          "encoding": {
            "x": {"datum": -0.533, "type": "quantitative", "scale": {"domain": [-0.533, 406.67], "nice": false, "zero": false}},
            "x2": {"datum": 375.2},
            "y": {"datum": 30, "type": "quantitative", "scale": {"domain": [19.43, 85.14], "nice": false, "zero": false}},
            "y2": {"datum": 70}
          }
        },
        {
          "data": {"name": "levels"},
          "mark": {"type": "rule", "color": "#8a8d96", "strokeWidth": 1, "strokeDash": [1, 5]},
          "encoding": {
            "x": {"datum": -0.533, "type": "quantitative", "scale": {"domain": [-0.533, 406.67], "nice": false, "zero": false}},
            "x2": {"datum": 375.2},
            "y": {"field": "lv", "type": "quantitative", "scale": {"domain": [19.43, 85.14], "nice": false, "zero": false}}
          }
        },
        {
          "data": {"name": "bars"},
          "mark": {"type": "line", "color": "#2e2eff", "strokeWidth": 2},
          "encoding": {
            "x": {
              "field": "i", "type": "quantitative",
              "scale": {"domain": [-0.533, 406.67], "nice": false, "zero": false},
              "axis": {"orient": "bottom", "values": [11.73, 57.9, 106.9, 154.9, 201.9, 249.9, 296, 345.1], "labelExpr": "datum.value < 20 ? '30' : datum.value < 80 ? 'Aug' : datum.value < 130 ? '5' : datum.value < 180 ? '7' : datum.value < 225 ? '11' : datum.value < 270 ? '13' : datum.value < 320 ? '16' : '19'", "labelFontWeight": {"condition": {"test": "datum.value > 50 && datum.value < 70", "value": "bold"}, "value": "normal"}, "title": null, "grid": false, "ticks": false, "labelPadding": 11, "labelFontSize": 21, "labelFont": "Roboto", "labelColor": "#dcdcdc", "labelFlush": false, "labelOverlap": false, "domainColor": "#e6e6e6", "domainWidth": 1.5, "zindex": 1}
            },
            "y": {
              "field": "r", "type": "quantitative",
              "scale": {"domain": [19.43, 85.14], "nice": false, "zero": false},
              "axis": {"orient": "right", "offset": -118, "values": [40, 60, 80], "format": ".2f", "title": null, "grid": false, "ticks": false, "labelPadding": 16, "labelFontSize": 21, "labelFont": "Roboto", "labelColor": "#dcdcdc", "labelBaseline": "middle", "domainColor": "#e6e6e6", "domainWidth": 1.5, "zindex": 1}
            }
          }
        },
        {
          "data": {"name": "divs"},
          "mark": {"type": "rule", "strokeWidth": 2},
          "encoding": {
            "x": {"field": "a", "type": "quantitative", "scale": {"domain": [-0.533, 406.67], "nice": false, "zero": false}},
            "x2": {"field": "b"},
            "y": {"field": "ra", "type": "quantitative", "scale": {"domain": [19.43, 85.14], "nice": false, "zero": false}},
            "y2": {"field": "rb"},
            "color": {"field": "s", "type": "nominal", "scale": {"domain": ["bull", "bear"], "range": ["#4caf50", "#f23645"]}, "legend": null}
          }
        },
        {
          "data": {"name": "tags"},
          "mark": {"type": "rect", "xOffset": -21, "x2Offset": 21, "yOffset": -10.5, "y2Offset": 10.5, "cornerRadius": 2},
          "encoding": {
            "x": {"field": "i", "type": "quantitative", "scale": {"domain": [-0.533, 406.67], "nice": false, "zero": false}},
            "x2": {"field": "i"},
            "y": {"field": "r", "type": "quantitative", "scale": {"domain": [19.43, 85.14], "nice": false, "zero": false}},
            "y2": {"field": "r"},
            "color": {"field": "s", "type": "nominal", "scale": {"domain": ["bull", "bear"], "range": ["#4caf6e", "#f2653a"]}, "legend": null}
          }
        },
        {
          "data": {"name": "tags"},
          "mark": {"type": "text", "align": "center", "baseline": "middle", "fontSize": 15, "color": "#ffffff", "font": "Roboto", "dy": 1},
          "encoding": {
            "x": {"field": "i", "type": "quantitative", "scale": {"domain": [-0.533, 406.67], "nice": false, "zero": false}},
            "y": {"field": "r", "type": "quantitative", "scale": {"domain": [19.43, 85.14], "nice": false, "zero": false}},
            "text": {"field": "t"}
          }
        },
        {
          "data": {"values": [{}]},
          "mark": {"type": "rule", "color": "#e6e6e6", "strokeWidth": 1.5},
          "encoding": {
            "x": {"datum": -0.533, "type": "quantitative", "scale": {"domain": [-0.533, 406.67], "nice": false, "zero": false}},
            "x2": {"datum": 406.67},
            "y": {"datum": 85.14, "type": "quantitative", "scale": {"domain": [19.43, 85.14], "nice": false, "zero": false}}
          }
        }
      ]
    }
  ]
}
